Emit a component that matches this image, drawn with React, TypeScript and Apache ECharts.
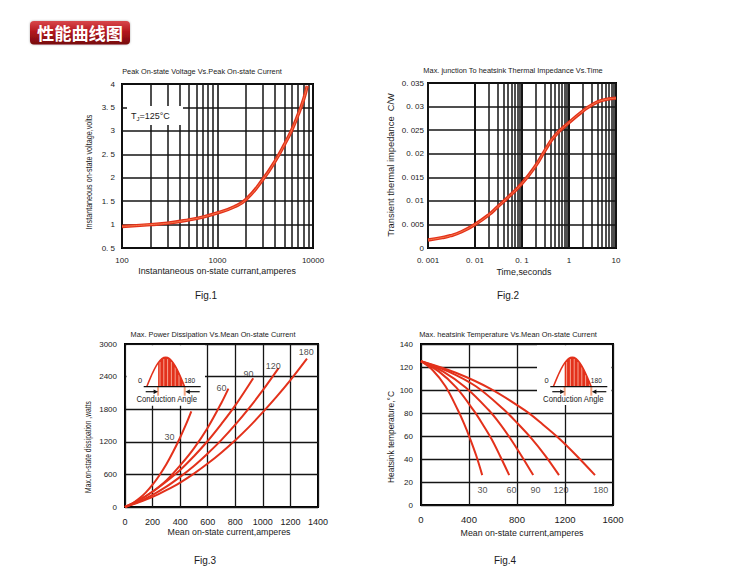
import React, { useEffect, useRef } from "react";
import * as echarts from "echarts";

const FONT = 'Arial, "Liberation Sans", Helvetica, sans-serif';
const CJK = '"Noto Sans CJK SC", "Noto Sans CJK TC", sans-serif';
const RED = "#e3311b";
const RED_LIGHT = "#f57a4c";
const GRID_COLOR = "#151515";
const TEXT = "#1a1a1a";

// ---------- Fig.1  Peak on-state voltage vs peak on-state current ----------
const fig1Current = [100, 200, 300, 500, 700, 1000, 1500, 2000, 3000, 4000, 5000, 6000, 7000, 8000, 8700];
const fig1Voltage = [0.96, 1.0, 1.03, 1.1, 1.16, 1.25, 1.38, 1.54, 1.97, 2.35, 2.7, 3.02, 3.35, 3.68, 3.96];
const fig1XLabels = ["100", "1000", "10000"];
const fig1YLabels = ["0. 5", "1", "1. 5", "2", "2. 5", "3", "3. 5", "4"];
const fig1MinorGrid = [200, 300, 400, 500, 600, 700, 800, 900, 2000, 3000, 4000, 5000, 6000, 7000, 8000, 9000];

// ---------- Fig.2  Thermal impedance vs time ----------
const fig2Time = [0.001, 0.002, 0.003, 0.005, 0.01, 0.02, 0.03, 0.05, 0.1, 0.2, 0.3, 0.5, 1, 2, 3, 5, 10];
const fig2Impedance = [0.0017, 0.0022, 0.0026, 0.0034, 0.005, 0.0071, 0.0087, 0.0107, 0.0137, 0.0176, 0.0205, 0.0238, 0.0266, 0.0291, 0.0303, 0.0313, 0.0318];
const fig2XLabels = ["0. 001", "0. 01", "0. 1", "1", "10"];
const fig2YLabels = ["0", "0. 005", "0. 01", "0. 015", "0. 02", "0. 025", "0. 03", "0. 035"];
const fig2MinorGrid = [
  0.002, 0.003, 0.004, 0.005, 0.006, 0.007, 0.008, 0.009,
  0.02, 0.03, 0.04, 0.05, 0.06, 0.07, 0.08, 0.09,
  0.2, 0.3, 0.4, 0.5, 0.6, 0.7, 0.8, 0.9,
  2, 3, 4, 5, 6, 7, 8, 9,
];

// ---------- Fig.3  Power dissipation vs mean current ----------
const fig3Current30 = [0, 50, 100, 150, 200, 250, 300, 350, 400, 440, 481];
const fig3Power30 = [0, 60, 150, 265, 410, 585, 785, 1020, 1280, 1505, 1760];
const fig3Current60 = [0, 100, 200, 300, 400, 500, 600, 700, 750];
const fig3Power60 = [0, 120, 285, 490, 765, 1080, 1460, 1920, 2180];
const fig3Current90 = [0, 100, 200, 300, 400, 500, 600, 700, 800, 930];
const fig3Power90 = [0, 125, 280, 470, 680, 935, 1215, 1530, 1870, 2370];
const fig3Current120 = [0, 100, 200, 300, 400, 500, 600, 700, 800, 900, 1000, 1114];
const fig3Power120 = [0, 100, 225, 375, 555, 755, 985, 1235, 1515, 1820, 2150, 2556];
const fig3Current180 = [0, 100, 200, 300, 400, 500, 600, 700, 800, 900, 1000, 1100, 1200, 1320];
const fig3Power180 = [0, 85, 185, 310, 450, 615, 800, 1005, 1230, 1475, 1745, 2030, 2335, 2730];
const fig3AngleNames = ["30", "60", "90", "120", "180"];
const fig3AngleLabelX = [322, 700, 895, 1075, 1315];
const fig3AngleLabelY = [1290, 2190, 2440, 2600, 2852];
const fig3XLabels = ["0", "200", "400", "600", "800", "1000", "1200", "1400"];
const fig3YLabels = ["0", "600", "1200", "1800", "2400", "3000"];

// ---------- Fig.4  Heatsink temperature vs mean current ----------
const fig4Current30 = [0, 100, 205, 305, 358, 408, 460, 510];
const fig4Temp30 = [125, 117, 103, 83, 71, 58, 43, 26];
const fig4Current60 = [0, 150, 295, 440, 515, 590, 662, 735];
const fig4Temp60 = [125, 116, 102, 82, 70, 57, 42, 26];
const fig4Current90 = [0, 185, 375, 560, 655, 750, 842, 935];
const fig4Temp90 = [125, 116, 102, 83, 71, 57, 42, 26];
const fig4Current120 = [0, 230, 460, 690, 805, 920, 1035, 1150];
const fig4Temp120 = [125, 116, 103, 83, 71, 58, 43, 26];
const fig4Current180 = [0, 290, 580, 870, 1015, 1160, 1305, 1450];
const fig4Temp180 = [125, 115, 101, 82, 70, 57, 42, 26];
const fig4AngleNames = ["30", "60", "90", "120", "180"];
const fig4AngleLabelX = [512, 755, 954, 1167, 1498];
const fig4AngleLabelY = [13, 13, 13, 13, 13];
const fig4XLabels = ["0", "400", "800", "1200", "1600"];
const fig4YLabels = ["0", "20", "40", "60", "80", "100", "120", "140"];

// icon shape for the conduction-angle insets (half sine)
const SINE = [0, 0.156, 0.309, 0.454, 0.588, 0.707, 0.809, 0.891, 0.951, 0.988, 1, 0.988, 0.951, 0.891, 0.809, 0.707, 0.588, 0.454, 0.309, 0.156, 0];

type Pt = [number, number];
const zip = (xs: number[], ys: number[]): Pt[] => xs.map((x, i) => [x, ys[i]]);

function measure(text: string, fontSize: number, fontFamily = FONT, fontWeight = "normal"): number {
  try {
    const t = new (echarts as any).graphic.Text({ style: { text, fontSize, fontFamily, fontWeight } });
    return t.getBoundingRect().width;
  } catch (e) {
    return 0;
  }
}
function fit(text: string, fontSize: number, target: number, fontFamily = FONT, fontWeight = "normal"): number {
  const w = measure(text, fontSize, fontFamily, fontWeight);
  return w > 0 ? target / w : 1;
}

function label(text: string, x: number, y: number, fontSize: number, target?: number, rotate = false, extra: any = {}) {
  const s = target ? fit(text, fontSize, target) : 1;
  return {
    type: "text",
    x,
    y,
    rotation: rotate ? Math.PI / 2 : 0,
    scaleX: s,
    silent: true,
    z: 20,
    style: {
      text,
      fontSize,
      fontFamily: FONT,
      fill: TEXT,
      align: "center",
      verticalAlign: "middle",
      ...extra,
    },
  };
}

function conductionInset(bx: number, by: number, box: { x: number; y: number; w: number; h: number }) {
  const W = 38;
  const H = 29.5;
  const n = SINE.length - 1;
  const px = (i: number) => bx + (W * i) / n;
  const outline = SINE.map((s, i) => [px(i), by - H * s]);
  const fillStart = 6;
  const fillPts = [[px(fillStart), by], ...outline.slice(fillStart), [bx + W, by]];
  const els: any[] = [];
  els.push({ type: "rect", shape: { x: box.x, y: box.y, width: box.w, height: box.h }, style: { fill: "#ffffff" }, z: 10, silent: true });
  els.push({ type: "polygon", shape: { points: fillPts }, style: { fill: RED }, z: 11, silent: true });
  [7, 9, 11, 13, 15, 17, 19].forEach((i) => {
    els.push({
      type: "line",
      shape: { x1: px(i), y1: by, x2: px(i), y2: by - H * SINE[i] + 1.5 },
      style: { stroke: "#ffd3c0", lineWidth: 0.7 },
      z: 12,
      silent: true,
    });
  });
  els.push({ type: "polyline", shape: { points: outline }, style: { stroke: RED, lineWidth: 1.5, fill: null }, z: 13, silent: true });
  [px(fillStart), bx + W].forEach((x) => {
    els.push({ type: "line", shape: { x1: x, y1: by, x2: x, y2: by + 9 }, style: { stroke: "#f4a37f", lineWidth: 2 }, z: 12, silent: true });
  });
  els.push({ type: "line", shape: { x1: bx - 3, y1: by, x2: bx + 54, y2: by }, style: { stroke: "#111", lineWidth: 1.2 }, z: 13, silent: true });
  const ay = by + 5;
  const lt = px(fillStart);
  els.push({ type: "line", shape: { x1: bx - 1, y1: ay, x2: lt - 3, y2: ay }, style: { stroke: "#111", lineWidth: 1.2 }, z: 13, silent: true });
  els.push({ type: "polygon", shape: { points: [[lt, ay], [lt - 4.5, ay - 2.3], [lt - 4.5, ay + 2.3]] }, style: { fill: "#111" }, z: 13, silent: true });
  const rt = bx + W + 0.6;
  els.push({ type: "line", shape: { x1: bx + 53, y1: ay, x2: rt + 3, y2: ay }, style: { stroke: "#111", lineWidth: 1.2 }, z: 13, silent: true });
  els.push({ type: "polygon", shape: { points: [[rt, ay], [rt + 4.5, ay - 2.3], [rt + 4.5, ay + 2.3]] }, style: { fill: "#111" }, z: 13, silent: true });
  els.push({ ...label("0", bx - 6.7, by - 6, 7.5), z: 14 });
  els.push({ ...label("180", bx + 43, by - 6, 7.5, 11), z: 14 });
  els.push({ ...label("Conduction Angle", bx + 20, by + 13, 8.5, 61), z: 14 });
  return els;
}

function logXAxis(gridIndex: number, min: number, max: number, labels: string[], majorWidth: number) {
  return {
    type: "log",
    logBase: 10,
    gridIndex,
    min,
    max,
    axisLine: { show: false },
    axisTick: { show: false },
    axisLabel: {
      fontSize: 8,
      fontFamily: FONT,
      color: TEXT,
      margin: 8,
      formatter: (v: number) => labels[Math.round(Math.log10(v / min))] ?? "",
    },
    splitLine: { show: true, lineStyle: { color: GRID_COLOR, width: majorWidth } },
  };
}

function valAxis(
  gridIndex: number,
  min: number,
  max: number,
  interval: number,
  labels: string[],
  fontSize: number,
  margin: number,
  lineWidth: number
) {
  return {
    type: "value",
    gridIndex,
    min,
    max,
    interval,
    axisLine: { show: false },
    axisTick: { show: false },
    axisLabel: {
      fontSize,
      fontFamily: FONT,
      color: TEXT,
      margin,
      formatter: (v: number) => labels[Math.round((v - min) / interval)] ?? "",
    },
    splitLine: { show: true, lineStyle: { color: GRID_COLOR, width: lineWidth } },
  };
}

function minorGrid(values: number[]) {
  return {
    silent: true,
    symbol: ["none", "none"],
    label: { show: false },
    emphasis: { disabled: true },
    lineStyle: { color: GRID_COLOR, width: 1.5, type: "solid" },
    z: 1,
    data: values.map((v) => ({ xAxis: v })),
  };
}

function curve(idx: number, xs: number[], ys: number[], color: string, width: number, extra: any = {}) {
  return {
    type: "line",
    xAxisIndex: idx,
    yAxisIndex: idx,
    data: zip(xs, ys),
    smooth: 0.35,
    symbol: "none",
    silent: true,
    lineStyle: { color, width },
    z: 3,
    ...extra,
  };
}

function angleLabels(idx: number, names: string[], xs: number[], ys: number[]) {
  return {
    type: "scatter",
    xAxisIndex: idx,
    yAxisIndex: idx,
    symbolSize: 0,
    silent: true,
    z: 5,
    data: names.map((n, i) => ({ name: n, value: [xs[i], ys[i]] })),
    label: { show: true, position: "inside", formatter: "{b}", fontSize: 9, fontFamily: FONT, color: TEXT },
  };
}

export default function App() {
  const ref = useRef<HTMLDivElement>(null);

  useEffect(() => {
    if (!ref.current) return;
    const chart = echarts.init(ref.current, undefined, { renderer: "svg" });

    const grids = [
      { left: 122, top: 84, width: 191, height: 164 },
      { left: 428, top: 83, width: 188, height: 165 },
      { left: 125, top: 344, width: 193, height: 163 },
      { left: 421, top: 344, width: 192, height: 161 },
    ].map((g) => ({ ...g, show: true, borderColor: "#000", borderWidth: 2, backgroundColor: "transparent" }));

    const headerScale = fit("性能曲线图", 17, 86, CJK, "bold");

    const graphic: any[] = [
      {
        type: "rect",
        shape: { x: 30, y: 21, width: 100, height: 23.5, r: 4 },
        style: {
          fill: new echarts.graphic.LinearGradient(0, 0, 0, 1, [
            { offset: 0, color: "#d9484b" },
            { offset: 0.45, color: "#b4181e" },
            { offset: 1, color: "#760a0e" },
          ]),
          shadowBlur: 2,
          shadowColor: "rgba(0,0,0,0.3)",
        },
        silent: true,
      },
      {
        type: "text",
        x: 80,
        y: 33,
        scaleX: headerScale,
        silent: true,
        style: {
          text: "性能曲线图",
          fontSize: 17,
          fontWeight: "bold",
          fontFamily: CJK,
          fill: "#ffffff",
          align: "center",
          verticalAlign: "middle",
        },
      },
      label("Peak On-state Voltage Vs.Peak On-state Current", 202, 71, 8, 160),
      label("Max. junction To heatsink Thermal Impedance Vs.Time", 513, 70, 8, 180),
      label("Max. Power Dissipation Vs.Mean On-state Current", 213, 334, 8, 165),
      label("Max. heatsink Temperature Vs.Mean On-state Current", 508, 334, 8, 178),
      label("Instantaneous on-state voltage,volts", 89, 172, 9, 115, true),
      label("Transient thermal impedance  C/W", 390, 165, 9.5, 144, true),
      label("Max.on-state dissipation ,watts", 88.5, 447, 9.5, 92, true),
      label("Heatsink temperature,°C", 391, 437, 9.5, 92, true),
      label("Instantaneous on-state currant,amperes", 217, 271, 9, 158),
      label("Time,seconds", 524, 271.5, 9, 55),
      label("Mean on-state current,amperes", 229, 532, 9.5, 123),
      label("Mean on-state current,amperes", 522, 532.5, 9.5, 123),
      label("Fig.1", 206, 295.5, 10),
      label("Fig.2", 508, 295.5, 10),
      label("Fig.3", 205, 560, 10),
      label("Fig.4", 505, 560, 10),
      { type: "rect", shape: { x: 127, y: 106, width: 56, height: 19 }, style: { fill: "#ffffff" }, z: 10, silent: true },
      {
        type: "text",
        x: 131,
        y: 115.5,
        z: 14,
        silent: true,
        style: {
          text: "{a|T}{b|J}{a|=125°C}",
          verticalAlign: "middle",
          align: "left",
          rich: {
            a: { fontSize: 9, fontFamily: FONT, fill: TEXT, lineHeight: 13 },
            b: { fontSize: 6, fontFamily: FONT, fill: TEXT, lineHeight: 13, verticalAlign: "bottom" },
          },
        },
      },
      ...conductionInset(146.7, 386.7, { x: 126.5, y: 345.2, w: 78.5, h: 60.5 }),
      ...conductionInset(553.3, 386.7, { x: 537, y: 345.2, w: 74.5, h: 59.8 }),
    ];

    const option: any = {
      animation: false,
      backgroundColor: "#ffffff",
      textStyle: { fontFamily: FONT },
      grid: grids,
      xAxis: [
        logXAxis(0, 100, 10000, fig1XLabels, 1.6),
        logXAxis(1, 0.001, 10, fig2XLabels, 2),
        valAxis(2, 0, 1400, 200, fig3XLabels, 9, 10, 1.3),
        valAxis(3, 0, 1600, 400, fig4XLabels, 9.5, 9, 1.3),
      ],
      yAxis: [
        valAxis(0, 0.5, 4, 0.5, fig1YLabels, 8, 7, 1.6),
        valAxis(1, 0, 0.035, 0.005, fig2YLabels, 8, 4, 1.6),
        valAxis(2, 0, 3000, 600, fig3YLabels, 8, 8, 1.3),
        valAxis(3, 0, 140, 20, fig4YLabels, 8, 8, 1.3),
      ],
      graphic: { elements: graphic },
      series: [
        curve(0, fig1Current, fig1Voltage, RED, 3.4, { smooth: 0.5, markLine: minorGrid(fig1MinorGrid) }),
        curve(0, fig1Current, fig1Voltage, RED_LIGHT, 1, { smooth: 0.5, z: 4 }),
        curve(1, fig2Time, fig2Impedance, RED, 3.4, { smooth: 0.5, markLine: minorGrid(fig2MinorGrid) }),
        curve(1, fig2Time, fig2Impedance, RED_LIGHT, 1, { smooth: 0.5, z: 4 }),

        curve(2, fig3Current30, fig3Power30, RED, 2),
        curve(2, fig3Current60, fig3Power60, RED, 2),
        curve(2, fig3Current90, fig3Power90, RED, 2),
        curve(2, fig3Current120, fig3Power120, RED, 2),
        curve(2, fig3Current180, fig3Power180, RED, 2),
        angleLabels(2, fig3AngleNames, fig3AngleLabelX, fig3AngleLabelY),

        curve(3, fig4Current30, fig4Temp30, RED, 2),
        curve(3, fig4Current60, fig4Temp60, RED, 2),
        curve(3, fig4Current90, fig4Temp90, RED, 2),
        curve(3, fig4Current120, fig4Temp120, RED, 2),
        curve(3, fig4Current180, fig4Temp180, RED, 2),
        angleLabels(3, fig4AngleNames, fig4AngleLabelX, fig4AngleLabelY),
      ],
    };

    chart.setOption(option);
    return () => chart.dispose();
  }, []);

  return (
    <div
      ref={ref}
      style={{ position: "fixed", left: 0, top: 0, width: 750, height: 582, background: "#ffffff" }}
    />
  );
}
